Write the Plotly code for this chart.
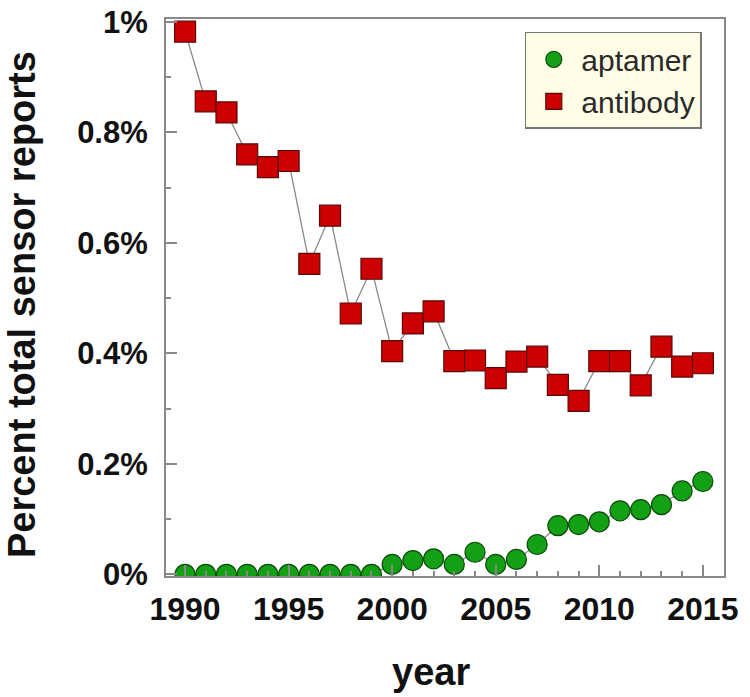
import plotly.graph_objects as go

years = list(range(1990, 2016))
antibody = [0.982, 0.856, 0.836, 0.760, 0.737, 0.748, 0.562, 0.649, 0.472, 0.553,
            0.404, 0.454, 0.476, 0.386, 0.387, 0.355, 0.385, 0.394, 0.343, 0.314,
            0.386, 0.386, 0.342, 0.412, 0.376, 0.382]
aptamer = [0.0, 0.0, 0.0, 0.0, 0.0, 0.0, 0.0, 0.0, 0.0, 0.0,
           0.018, 0.025, 0.028, 0.018, 0.040, 0.018, 0.027, 0.054, 0.088, 0.090,
           0.095, 0.115, 0.117, 0.126, 0.151, 0.168]
ytick_vals = [0, 0.2, 0.4, 0.6, 0.8, 1.0]
ytick_text = ["0%", "0.2%", "0.4%", "0.6%", "0.8%", "1%"]
xtick_vals = [1990, 1995, 2000, 2005, 2010, 2015]
x_title = "year"
y_title = "Percent total sensor reports"

FONT = "Liberation Sans, Arial, sans-serif"
LINE = dict(color="#8a8a8a", width=1.3)

fig = go.Figure()
# connecting lines (behind markers)
fig.add_trace(go.Scatter(x=years, y=aptamer, mode="lines", line=LINE,
                         showlegend=False, hoverinfo="skip"))
fig.add_trace(go.Scatter(x=years, y=antibody, mode="lines", line=LINE,
                         showlegend=False, hoverinfo="skip"))
fig.add_trace(go.Scatter(
    x=years, y=aptamer, name="aptamer", mode="markers",
    marker=dict(symbol="circle", size=20, color="#14a014",
                line=dict(color="#0b4a0b", width=1.2)),
))
fig.add_trace(go.Scatter(
    x=years, y=antibody, name="antibody", mode="markers",
    marker=dict(symbol="square", size=21, color="#cc0000",
                line=dict(color="#5a0a0a", width=1.2)),
))

title_font = dict(size=38, family=FONT, weight="bold", color="#111111")
fig.update_layout(
    width=750, height=697,
    margin=dict(l=166, r=26, t=19, b=121),
    paper_bgcolor="white", plot_bgcolor="white",
    font=dict(family=FONT, color="#111111"),
    showlegend=True,
    legend=dict(
        x=0.643, y=0.977, xanchor="left", yanchor="top",
        bgcolor="#fffde6", bordercolor="#777777", borderwidth=1.5,
        font=dict(size=30, family=FONT, color="#2a2a2a"),
        traceorder="normal", itemwidth=45, tracegroupgap=0,
    ),
    annotations=[
        dict(text=x_title, xref="paper", yref="paper", x=0.475, y=-0.172,
             xanchor="center", yanchor="middle", showarrow=False, font=title_font),
        dict(text=y_title, xref="paper", yref="paper", x=-0.258, y=0.4865,
             xanchor="center", yanchor="middle", textangle=-90, showarrow=False,
             font=title_font),
    ],
)
fig.update_xaxes(
    range=[1989.08, 2016.02], automargin=False,
    tickvals=xtick_vals,
    ticks="inside", ticklen=11, tickwidth=1.5, tickcolor="#888888",
    minor=dict(dtick=1, ticks="inside", ticklen=5, tickcolor="#888888"),
    showline=True, linecolor="#888888", linewidth=2, mirror=True,
    showgrid=False, zeroline=False,
    tickfont=dict(size=32, family=FONT, weight="bold", color="#111111"),
    ticklabelstandoff=4,
)
fig.update_yaxes(
    range=[-0.003, 1.005], automargin=False,
    tickvals=ytick_vals, ticktext=ytick_text,
    ticks="inside", ticklen=11, tickwidth=1.5, tickcolor="#888888",
    minor=dict(dtick=0.1, tick0=0, ticks="inside", ticklen=5, tickcolor="#888888"),
    showline=True, linecolor="#888888", linewidth=2, mirror=True,
    showgrid=False, zeroline=False,
    tickfont=dict(size=31, family=FONT, weight="bold", color="#111111"),
    ticklabelstandoff=10,
)

fig.write_html("out.html",
               config={"displayModeBar": False},
               post_script="document.body.style.margin='0';document.body.style.overflow='hidden';")
